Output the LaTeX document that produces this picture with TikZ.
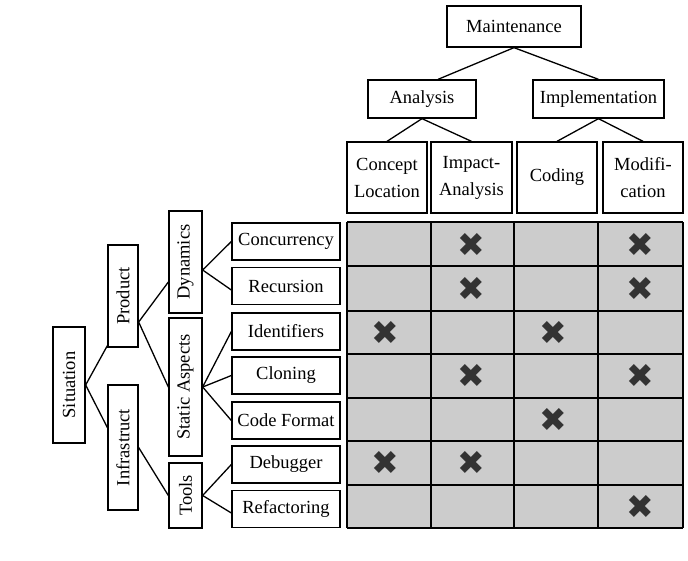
\documentclass[tikz,border=0pt]{standalone}
\usepackage{fontspec}
\setmainfont{Liberation Serif}
\newfontfamily\symfont{DejaVu Sans}
\usepackage{graphicx}
\usetikzlibrary{positioning,calc}

\definecolor{cellgray}{RGB}{204,204,204}
\definecolor{markgray}{RGB}{51,51,51}

\begin{document}
\begin{tikzpicture}[
    x=1pt, y=-1pt,
    every node/.style={font=\fontsize{18.5}{27}\selectfont},
    box/.style={rectangle, draw, line width=1.3pt, inner sep=0pt},
    top_node/.style={box, minimum height=41pt},
    mid_node/.style={box, minimum height=38pt},
    col_node/.style={box, minimum width=80pt, minimum height=71pt, align=center},
    row_node/.style={box, minimum width=108pt, minimum height=37pt},
    vert_node/.style={box, minimum width=32pt},
    mark_node/.style={text=markgray, font=\symfont\fontsize{33}{33}\selectfont, inner sep=0pt},
    link/.style={draw, line width=1.3pt}
]
\useasboundingbox (0,0) rectangle (688,560);

% Maintenance tree
\node[top_node, minimum width=134pt] (main) at (514,26.5) {Maintenance};
\node[mid_node, minimum width=108pt] (ana) at (422,99) {Analysis};
\node[mid_node, minimum width=131pt] (impl) at (598.5,99) {Implementation};
\node[col_node] (conloc) at (387,177.5) {Concept\\Location};
\node[col_node, minimum width=81pt] (impact) at (471.5,177.5) {Impact-\\Analysis};
\node[col_node] (coding) at (557,177.5) {Coding};
\node[col_node] (modif) at (643,177.5) {Modifi-\\cation};

\draw[link] (main.south) -- ([xshift=16pt]ana.north);
\draw[link] (main.south) -- (impl.north);
\draw[link] (ana.south) -- (conloc.north);
\draw[link] (ana.south) -- (impact.north);
\draw[link] (impl.south) -- (coding.north);
\draw[link] (impl.south) -- (modif.north);

% Situation tree
\node[vert_node, minimum height=116pt] (sit) at (69,385) {\rotatebox{90}{Situation}};
\node[vert_node, minimum width=30pt, minimum height=102pt] (prod) at (123,296) {\rotatebox{90}{Product}};
\node[vert_node, minimum width=30pt, minimum height=125pt] (infra) at (123,447.5) {\rotatebox{90}{Infrastruct}};
\node[vert_node, minimum width=33pt, minimum height=102pt] (dyn) at (185.5,262) {\rotatebox{90}{Dynamics}};
\node[vert_node, minimum width=33pt, minimum height=138pt] (stat) at (185.5,387) {\rotatebox{90}{Static Aspects}};
\node[vert_node, minimum width=33pt, minimum height=65pt] (tools) at (185.5,495.5) {\rotatebox{90}{Tools}};

\node[row_node] (conc) at (286,241.5) {Concurrency};
\node[row_node] (recur) at (286,286) {Recursion};
\node[row_node] (ident) at (286,331.5) {Identifiers};
\node[row_node] (clon) at (286,375.5) {Cloning};
\node[row_node] (codef) at (286,420.5) {Code Format};
\node[row_node] (debug) at (286,464.5) {Debugger};
\node[row_node] (refac) at (286,509) {Refactoring};

\coordinate (prodR) at ([yshift=-26pt]prod.east);
\coordinate (dynR) at ([yshift=-8pt]dyn.east);

\draw[link] (sit.east) -- ([yshift=2pt]prod.south west);
\draw[link] (sit.east) -- ([yshift=20pt]infra.west);
\draw[link] (prodR) -- ([yshift=-20pt]dyn.west);
\draw[link] (prodR) -- (stat.west);
\draw[link] (infra.east) -- (tools.west);
\draw[link] (dynR) -- (conc.west);
\draw[link] (dynR) -- ([yshift=-4pt]recur.west);
\draw[link] (stat.east) -- (ident.west);
\draw[link] (stat.east) -- (clon.west);
\draw[link] (stat.east) -- (codef.west);
\draw[link] (tools.east) -- (debug.west);
\draw[link] (tools.east) -- ([yshift=-4pt]refac.west);

% Matrix
\fill[cellgray] (347,222) rectangle (683,528);
\foreach \gx in {347,431,514,598,683}
    \draw[line width=1.3pt] (\gx,222) -- (\gx,528);
\foreach \gy in {222,266,311,354,398,441,485,528}
    \draw[line width=1.3pt] (347,\gy) -- (683,\gy);

% Marks (column/row)
\foreach \cx/\ry in {2/1,4/1,2/2,4/2,1/3,3/3,2/4,4/4,3/5,1/6,2/6,4/7}
    \node[mark_node] (x\cx\ry) at ({\ifcase\cx\or 385\or 471\or 553\or 640\fi},
        {\ifcase\ry\or 245\or 289\or 333\or 376\or 420\or 463\or 507\fi}) {✖};

\end{tikzpicture}
\end{document}
